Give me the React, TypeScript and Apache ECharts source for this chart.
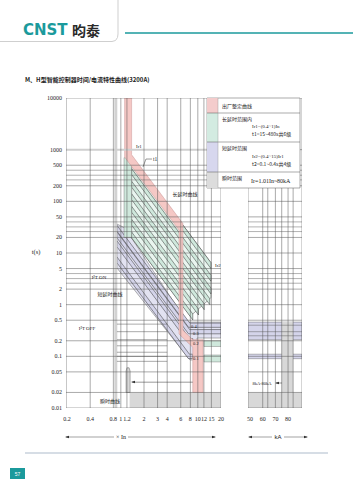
import React, { useEffect, useRef } from "react";
import * as echarts from "echarts";

type Pt = [number, number];

// ---------------- axes / ticks ----------------
const timeTicks = [10000, 1000, 500, 200, 100, 50, 20, 10, 5, 2, 1, 0.5, 0.2, 0.1, 0.05, 0.02, 0.01];
const timeTickLabels = ["10000", "1000", "500", "200", "100", "50", "20", "10", "5", "2", "1", "0.5", "0.2", "0.1", "0.05", "0.02", "0.01"];
const multipleTicks = [0.2, 0.4, 0.8, 1, 1.2, 2, 3, 4, 6, 8, 10, 12, 15, 20];
const multipleTickLabels = ["0.2", "0.4", "0.8", "1", "1.2", "2", "3", "4", "6", "8", "10", "12", "15", "20"];
const kaTicks = [50, 60, 70, 80];
const kaTickLabels = ["50", "60", "70", "80"];
const settingTimeLines = [400, 320, 260, 40, 32, 26, 4, 3.2, 2.6];
const kaGridLines = [60, 64, 70, 75, 80, 84];
const i2tOffLevels = [0.42, 0.3, 0.21, 0.16, 0.12, 0.1, 0.08];

const X_MIN = 0.194;
const X_MAX = 20;
const KA_MIN = 48.4;
const KA_MAX = 91;
const T_MIN = 0.01;
const T_MAX = 10000;

// ---------------- curves (multiple of In , seconds) ----------------
const factoryCurve: Pt[] = [
  [1.12, 10000], [1.38, 10000], [1.38, 800], [6.4, 37.2], [6.4, 0.32], [8.6, 0.21], [11.7, 0.21],
  [11.7, 0.02], [8.6, 0.02], [8.6, 0.15], [5.7, 0.27], [5.7, 27.8], [1.12, 720],
];
const longDelayBand: Pt[] = [[1.1, 700], [1.38, 700], [1.38, 20], [1.1, 20]];
const longDelayEnvelope: Pt[] = [[1.38, 750], [14.8, 6.5], [14.8, 1.36], [8.0, 0.6], [1.38, 19.6]];
const longDelayStripeStart: Pt[] = [[1.38, 750], [1.38, 430], [1.38, 245], [1.38, 140], [1.38, 80], [1.38, 45], [1.38, 25.5]];
const longDelayStripeEnd: Pt[] = [[14.8, 6.5], [14.8, 3.7], [14.8, 2.1], [14.3, 1.3], [12.1, 1.04], [10.2, 0.82], [8.6, 0.66]];
const shortDelayEnvelope: Pt[] = [
  [0.89, 36.4], [1.13, 30.5], [7.24, 0.46], [20, 0.46], [20, 0.226], [9.78, 0.226], [9.78, 0.085], [7.9, 0.085], [0.89, 5.13],
];
const shortDelayStripes: Pt[][] = [
  [[0.89, 34.4], [7.87, 0.44], [20, 0.44], [20, 0.364], [7.59, 0.364], [0.89, 26.5]],
  [[0.89, 25.6], [7.84, 0.33], [20, 0.33], [20, 0.273], [7.56, 0.273], [0.89, 19.7]],
  [[0.89, 17.2], [7.87, 0.22], [8.6, 0.22], [8.6, 0.182], [7.58, 0.182], [0.89, 13.2]],
  [[0.89, 8.4], [7.78, 0.11], [8.6, 0.11], [8.6, 0.091], [7.5, 0.091], [0.89, 6.46]],
];
const shortDelayGreenBoxes: Pt[][] = [
  [[12, 0.2], [20, 0.2], [20, 0.155], [12, 0.155]],
  [[12, 0.106], [20, 0.106], [20, 0.078], [12, 0.078]],
];
const instSpike: Pt[] = [[1.17, 0.02], [1.17, 0.052], [1.2, 0.06], [1.28, 0.06], [1.32, 0.052], [1.32, 0.02]];
const instBottom: Pt[] = [[1.3, 0.02], [20, 0.02], [20, 0.01], [1.3, 0.01]];
const t1Leader: Pt[] = [[2.54, 659], [2.12, 659], [1.94, 462]];
const instArrow: Pt[] = [[1.4, 0.0316], [8.6, 0.0316]];
const i2tOffSpan: Pt = [0.89, 4.0];

// right panel (kA)
const kaShortDelayBands: Pt[][] = [
  [[48.4, 0.46], [91, 0.46], [91, 0.21], [48.4, 0.21]],
  [[48.4, 0.11], [91, 0.11], [91, 0.09], [48.4, 0.09]],
];
const kaInstColumn: Pt[] = [[75, 0.46], [84, 0.46], [84, 0.02], [75, 0.02]];
const kaInstBottom: Pt[] = [[48.4, 0.02], [91, 0.02], [91, 0.01], [48.4, 0.01]];

// ---------------- styles ----------------
const SERIF = '"Liberation Serif", "DejaVu Serif", serif';
const CJK = '"Noto Sans CJK SC", sans-serif';
const SANS = '"Liberation Sans", "DejaVu Sans", sans-serif';
const PINK = "#f5c8c5";
const GREEN = "#cfe8dc";
const GREEN_LIGHT = "#e9f5ef";
const LAV = "#d4d4ea";
const LAV_LIGHT = "#e2e2f1";
const GREY = "#d8d8d8";
const TEAL = "#1b9a9c";

interface Shape { pts: Pt[]; fill?: string; stroke?: string; lw?: number; open?: boolean }
interface Seg { a: Pt; b: Pt; c: string; w: number }
interface Label { p: Pt; text: string; dx: number; dy: number; align: string; size: number; family: string }

const shapeSeries = (shapes: Shape[], axis: number, z: number) => ({
  type: "custom",
  xAxisIndex: axis,
  yAxisIndex: axis,
  z,
  silent: true,
  clip: true,
  data: shapes.map((s) => [s.pts[0][0], s.pts[0][1]]),
  renderItem: (params: any, api: any) => {
    const s = shapes[params.dataIndex];
    const points = s.pts.map((p) => api.coord(p));
    return {
      type: s.open ? "polyline" : "polygon",
      shape: { points },
      style: { fill: s.open ? "none" : s.fill || "none", stroke: s.stroke || "none", lineWidth: s.lw ?? 0.5 },
    };
  },
});

const segSeries = (segs: Seg[], axis: number, z: number) => ({
  type: "custom",
  xAxisIndex: axis,
  yAxisIndex: axis,
  z,
  silent: true,
  clip: true,
  data: segs.map((s) => [s.a[0], s.a[1]]),
  renderItem: (params: any, api: any) => {
    const s = segs[params.dataIndex];
    const p1 = api.coord(s.a);
    const p2 = api.coord(s.b);
    return { type: "line", shape: { x1: p1[0], y1: p1[1], x2: p2[0], y2: p2[1] }, style: { stroke: s.c, lineWidth: s.w } };
  },
});

const labelSeries = (labels: Label[], axis: number) => ({
  type: "custom",
  xAxisIndex: axis,
  yAxisIndex: axis,
  z: 5,
  silent: true,
  clip: false,
  data: labels.map((l) => l.p),
  renderItem: (params: any, api: any) => {
    const l = labels[params.dataIndex];
    const c = api.coord(l.p);
    return {
      type: "text",
      x: c[0] + l.dx,
      y: c[1] + l.dy,
      style: {
        text: l.text, fill: "#222", fontSize: l.size, fontFamily: l.family,
        align: l.align, textAlign: l.align, verticalAlign: "middle", textVerticalAlign: "middle",
      },
    };
  },
});

const gText = (x: number, y: number, text: string, size: number, family: string, o: any = {}) => ({
  type: "text",
  x,
  y,
  z: 120,
  silent: true,
  style: {
    text, fontSize: size, fontFamily: family, fill: o.color || "#222", fontWeight: o.weight || "normal",
    align: o.align || "left", textAlign: o.align || "left", verticalAlign: "middle", textVerticalAlign: "middle",
  },
});
const gLine = (x1: number, y1: number, x2: number, y2: number, stroke: string, w: number, z = 120) => ({
  type: "line", z, silent: true, shape: { x1, y1, x2, y2 }, style: { stroke, lineWidth: w },
});
const gRect = (x: number, y: number, w: number, h: number, fill: string, stroke = "none", lw = 0.5, z = 110) => ({
  type: "rect", z, silent: true, shape: { x, y, width: w, height: h }, style: { fill, stroke, lineWidth: lw },
});
const gTri = (pts: number[][]) => ({ type: "polygon", z: 120, silent: true, shape: { points: pts }, style: { fill: "#333" } });

function buildOption() {
  // ---- left panel shapes
  const leftShapes: Shape[] = [];
  leftShapes.push({ pts: shortDelayEnvelope, fill: LAV_LIGHT, stroke: "#666", lw: 0.5 });
  shortDelayStripes.forEach((s) => leftShapes.push({ pts: s, fill: LAV, stroke: "#333", lw: 0.5 }));
  leftShapes.push({ pts: longDelayEnvelope, fill: GREEN_LIGHT, stroke: "#555", lw: 0.5 });
  longDelayStripeStart.forEach((a, i) => {
    const b = longDelayStripeEnd[i];
    leftShapes.push({ pts: [a, b, [b[0], b[1] / 1.3], [a[0], a[1] / 1.3]], fill: GREEN, stroke: "#333", lw: 0.5 });
  });
  leftShapes.push({ pts: longDelayBand, fill: GREEN, stroke: "#666", lw: 0.4 });
  shortDelayGreenBoxes.forEach((s) => leftShapes.push({ pts: s, fill: GREEN, stroke: "#666", lw: 0.4 }));
  leftShapes.push({ pts: instBottom, fill: GREY });
  leftShapes.push({ pts: instSpike, fill: GREY, stroke: "#666", lw: 0.5 });
  leftShapes.push({ pts: factoryCurve, fill: PINK, stroke: "#c99", lw: 0.5 });

  const leftOverlay: Shape[] = [
    { pts: t1Leader, stroke: "#333", lw: 0.5, open: true },
    { pts: instArrow, stroke: "#333", lw: 0.5, open: true },
  ];

  // ---- right panel shapes
  const rightShapes: Shape[] = [];
  kaShortDelayBands.forEach((s) => rightShapes.push({ pts: s, fill: LAV, stroke: "#555", lw: 0.4 }));
  rightShapes.push({ pts: kaInstColumn, fill: GREY });
  rightShapes.push({ pts: kaInstBottom, fill: GREY });

  // ---- grid lines
  const leftSegs: Seg[] = [];
  leftSegs.push({ a: [0.86, T_MIN], b: [0.86, T_MAX], c: "#d2d2d2", w: 3 });
  leftSegs.push({ a: [X_MIN, 1000], b: [X_MAX, 1000], c: "#cfcfcf", w: 2 });
  multipleTicks.forEach((v) => {
    if (v > 0.2) leftSegs.push({ a: [v, T_MIN], b: [v, T_MAX], c: "#555", w: 0.5 });
  });
  leftSegs.push({ a: [X_MIN, T_MIN], b: [X_MIN, T_MAX], c: "#444", w: 0.6 });
  timeTicks.forEach((t) => {
    if (t !== 1000) leftSegs.push({ a: [X_MIN, t], b: [X_MAX, t], c: "#555", w: 0.5 });
  });
  settingTimeLines.forEach((t) => leftSegs.push({ a: [X_MIN, t], b: [X_MAX, t], c: "#555", w: 0.45 }));
  i2tOffLevels.forEach((t) => leftSegs.push({ a: [i2tOffSpan[0], t], b: [i2tOffSpan[1], t], c: "#444", w: 0.45 }));

  const rightSegs: Seg[] = [];
  [KA_MIN, ...kaGridLines, KA_MAX].forEach((v) => rightSegs.push({ a: [v, T_MIN], b: [v, T_MAX], c: "#555", w: 0.5 }));
  timeTicks.forEach((t) => rightSegs.push({ a: [KA_MIN, t], b: [KA_MAX, t], c: "#555", w: 0.5 }));
  settingTimeLines.forEach((t) => rightSegs.push({ a: [KA_MIN, t], b: [KA_MAX, t], c: "#555", w: 0.45 }));
  [0.4, 0.3, 0.25].forEach((t) => rightSegs.push({ a: [KA_MIN, t], b: [KA_MAX, t], c: "#555", w: 0.45 }));

  // ---- axis labels
  const yLabels: Label[] = timeTicks.map((t, i) => ({ p: [X_MIN, t], text: timeTickLabels[i], dx: -4, dy: 0, align: "right", size: 6, family: SERIF }));
  const xLabels: Label[] = multipleTicks.map((v, i) => ({ p: [v, T_MIN], text: multipleTickLabels[i], dx: 0, dy: 11, align: "center", size: 6, family: SERIF }));
  const kaLabels: Label[] = kaTicks.map((v, i) => ({ p: [v, T_MIN], text: kaTickLabels[i], dx: 0, dy: 11, align: "center", size: 6, family: SERIF }));

  const arrowHead = (x: number, y: number, dir: number) => gTri([[x, y], [x + 4 * dir, y - 1.3], [x + 4 * dir, y + 1.3]]);

  const graphic: any[] = [
    // header
    { type: "polyline", z: 120, silent: true, shape: { points: [[0, 41.5], [112, 41.5], [115.5, 40.5], [117.5, 37.5], [118, 34], [118, 0]] }, style: { stroke: "#cfcfcf", lineWidth: 1, fill: "none" } },
    gLine(125, 33, 353, 33, TEAL, 1.5),
    gText(23, 30, "CNST", 15, '"DejaVu Sans", sans-serif', { color: TEAL, weight: "bold" }),
    gText(72, 30, "昀泰", 14, CJK, { color: "#2a2a2a", weight: "bold" }),
    gText(25, 79, "M、H型智能控制器时间/电流特性曲线(3200A)", 6, CJK, { weight: "bold" }),
    gText(36, 251, "t(s)", 6.5, SERIF, { align: "center" }),
    // legend
    gRect(207, 98, 93, 90, "#ffffff", "#555", 0.5),
    gRect(207, 98, 11, 15, "#f4cccc"),
    gRect(207, 113, 11, 29, "#d3ebe1"),
    gRect(207, 142, 11, 30, "#d7d7ee"),
    gRect(207, 172, 11, 16, "#dcdcdc"),
    gLine(207, 113, 300, 113, "#555", 0.5),
    gLine(207, 142, 300, 142, "#555", 0.5),
    gLine(207, 172, 300, 172, "#555", 0.5),
    gLine(218, 98, 218, 188, "#888", 0.4),
    gText(222, 105.5, "出厂整定曲线", 5, CJK),
    gText(222, 118.5, "长延时范围内", 5, CJK),
    gText(252, 126, "Ir1=(0.4~1)In", 5, SERIF),
    gText(252, 133.5, "t1=15~480s共6级", 5, CJK),
    gText(222, 147.5, "短延时范围", 5, CJK),
    gText(252, 156, "Ir2=(0.4~15)Ir1", 5, SERIF),
    gText(252, 163, "t2=0.1~0.4s共4级", 5, CJK),
    gText(222, 177.5, "瞬时范围", 5, CJK),
    gText(251, 181, "Ir=1.01In~80kA", 6, SERIF),
    // annotations
    gText(136, 146, "Ir1", 5, SERIF),
    gText(153, 158.5, "t1", 5.5, SERIF),
    gText(185, 193, "长延时曲线", 5, CJK, { align: "center" }),
    gText(215, 265, "Ir2", 5, SERIF),
    gText(99, 277, "I²T ON", 5, SERIF, { align: "center" }),
    gText(110, 293, "短延时曲线", 5, CJK, { align: "center" }),
    gText(87, 328, "I²T OFF", 5, SERIF, { align: "center" }),
    gText(110, 400, "瞬时曲线", 5, CJK, { align: "center" }),
    gText(191, 326.5, "0.4", 4.5, SERIF),
    gText(193, 333.5, "0.3", 4.5, SERIF),
    gText(193, 343, "0.2", 4.5, SERIF),
    gText(193, 358, "0.1", 4.5, SERIF),
    gText(262, 383, "8kA-80kA", 4.5, SERIF, { align: "center" }),
    gLine(276, 383, 282, 383, "#333", 0.5),
    arrowHead(275, 383, 1),
    arrowHead(131, 382, 1),
    // bottom unit arrows
    gLine(66, 437, 114, 437, "#444", 0.5),
    gText(121, 437, "× In", 6, SERIF, { align: "center" }),
    gLine(128, 437, 215, 437, "#444", 0.5),
    arrowHead(65, 437, 1),
    arrowHead(216, 437, -1),
    gLine(249, 437, 272, 437, "#444", 0.5),
    gText(278, 437, "kA", 6, SANS, { align: "center" }),
    gLine(284, 437, 307, 437, "#444", 0.5),
    arrowHead(248, 437, 1),
    arrowHead(308, 437, -1),
    // footer
    gLine(25, 453, 328, 453, "#c9d2dc", 1.5),
    gRect(10, 468, 15, 11, TEAL, "none", 0, 120),
    gText(17.5, 473.5, "57", 5, SANS, { color: "#ffffff", align: "center" }),
  ];

  const logY = (idx: number) => ({
    type: "log", gridIndex: idx, min: T_MIN, max: T_MAX, logBase: 10,
    axisLine: { show: false }, axisTick: { show: false }, axisLabel: { show: false }, splitLine: { show: false },
  });

  return {
    animation: false,
    backgroundColor: "#ffffff",
    grid: [
      { left: 66, top: 98, width: 155, height: 310 },
      { left: 248, top: 98, width: 54, height: 310 },
    ],
    xAxis: [
      { type: "log", gridIndex: 0, min: X_MIN, max: X_MAX, logBase: 10, axisLine: { show: false }, axisTick: { show: false }, axisLabel: { show: false }, splitLine: { show: false } },
      { type: "value", gridIndex: 1, min: KA_MIN, max: KA_MAX, axisLine: { show: false }, axisTick: { show: false }, axisLabel: { show: false }, splitLine: { show: false } },
    ],
    yAxis: [logY(0), logY(1)],
    series: [
      shapeSeries(leftShapes, 0, 1),
      shapeSeries(rightShapes, 1, 1),
      segSeries(leftSegs, 0, 3),
      segSeries(rightSegs, 1, 3),
      shapeSeries(leftOverlay, 0, 4),
      labelSeries(yLabels, 0),
      labelSeries(xLabels, 0),
      labelSeries(kaLabels, 1),
    ],
    graphic: { elements: graphic },
  };
}

export default function App() {
  const ref = useRef<HTMLDivElement>(null);
  useEffect(() => {
    if (!ref.current) return;
    const chart = echarts.init(ref.current, undefined, { renderer: "svg" });
    chart.setOption(buildOption() as any);
    return () => chart.dispose();
  }, []);
  return (
    <div
      ref={ref}
      style={{ position: "fixed", left: 0, top: 0, width: 353, height: 480, background: "#fff" }}
    />
  );
}
